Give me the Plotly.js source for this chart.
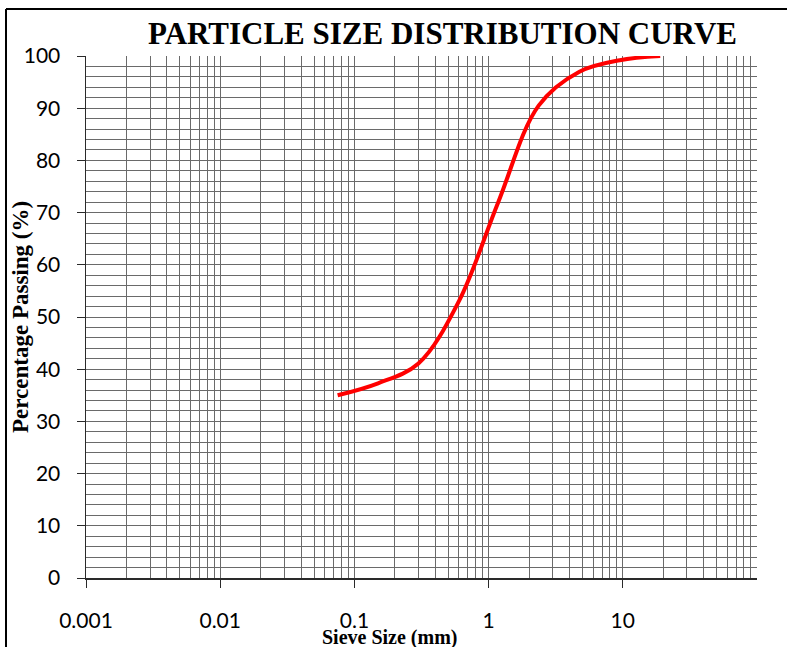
<!DOCTYPE html>
<html>
<head>
<meta charset="utf-8">
<script src="https://cdn.plot.ly/plotly-3.0.1.min.js"></script>
<style>html,body{margin:0;padding:0;background:#fff;}#chart{width:787px;height:647px;}</style>
</head>
<body>
<div id="chart"></div>
<script>
// Data
var sieveSize = [0.075, 0.15, 0.3, 0.6, 1.18, 2.36, 4.75, 9.5, 19];
var percentPassing = [35, 37.3, 41.1, 53, 72, 90.5, 97, 99.2, 100];

var xTickVals = [0.001, 0.01, 0.1, 1, 10];
var xTickText = ["0.001", "0.01", "0.1", "1", "10"];
var yTickVals = [0, 10, 20, 30, 40, 50, 60, 70, 80, 90, 100];

var titleText = "PARTICLE SIZE DISTRIBUTION CURVE";
var xTitleText = "Sieve Size (mm)";
var yTitleText = "Percentage Passing (%)";

// minor grid positions for the log axis (2..9 in each decade, plus the right edge)
var minorX = [];
[0.001, 0.01, 0.1, 1, 10].forEach(function (d) {
  for (var k = 2; k <= 9; k++) minorX.push(+(d * k).toPrecision(6));
});
minorX.push(100);

var W = 787, H = 647;
var L = 86, R = 30, T = 56, B = 69;
var pw = W - L - R, ph = H - T - B;
function px2x(p) { return (p - L) / pw; }
function px2y(p) { return (H - B - p) / ph; }

var gridCol = "#6a6a6a";
var axisCol = "#2a2a2a";
var tickFont = { family: "Lato, 'Open Sans', sans-serif", size: 21, color: "#000" };
var serifBold = "'Liberation Serif', 'Times New Roman', serif";

var trace = {
  x: sieveSize,
  y: percentPassing,
  type: "scatter",
  mode: "lines",
  line: { color: "#ff0000", width: 4, shape: "spline", smoothing: 1 },
  hoverinfo: "x+y",
  showlegend: false
};

var layout = {
  width: W, height: H,
  margin: { l: L, r: R, t: T, b: B, pad: 0 },
  paper_bgcolor: "#fff",
  plot_bgcolor: "#fff",
  showlegend: false,
  title: {
    text: "<b>" + titleText + "</b>",
    font: { family: serifBold, size: 31, color: "#000" },
    x: px2x(442.5), xref: "paper", xanchor: "center",
    y: 1 - 33 / H, yref: "container", yanchor: "middle"
  },
  xaxis: {
    type: "log",
    range: [-3, 2],
    tickmode: "array",
    tickvals: xTickVals,
    ticktext: xTickText,
    ticks: "outside",
    ticklen: 8,
    tickwidth: 1,
    tickcolor: axisCol,
    ticklabelstandoff: 15,
    tickfont: tickFont,
    showgrid: true,
    gridcolor: gridCol,
    gridwidth: 1,
    minor: { tickmode: "array", tickvals: minorX, showgrid: true, gridcolor: gridCol, gridwidth: 1, ticks: "" },
    showline: true,
    linecolor: axisCol,
    linewidth: 1.5,
    zeroline: false,
    fixedrange: true
  },
  yaxis: {
    range: [0, 100],
    tickmode: "array",
    tickvals: yTickVals,
    ticks: "outside",
    ticklen: 8,
    tickwidth: 1,
    tickcolor: axisCol,
    ticklabelstandoff: 12,
    tickfont: tickFont,
    showgrid: true,
    gridcolor: gridCol,
    gridwidth: 1,
    minor: { dtick: 2, showgrid: true, gridcolor: gridCol, gridwidth: 1, ticks: "" },
    showline: true,
    linecolor: axisCol,
    linewidth: 1.5,
    zeroline: false,
    fixedrange: true
  },
  annotations: [
    {
      text: "<b>" + xTitleText + "</b>",
      xref: "paper", yref: "paper",
      x: px2x(390), y: px2y(637),
      xanchor: "center", yanchor: "middle",
      showarrow: false,
      font: { family: serifBold, size: 20, color: "#000" }
    },
    {
      text: "<b>" + yTitleText + "</b>",
      xref: "paper", yref: "paper",
      x: px2x(20), y: px2y(317),
      xanchor: "center", yanchor: "middle",
      textangle: -90,
      showarrow: false,
      font: { family: serifBold, size: 23, color: "#000" }
    }
  ],
  shapes: [
    { type: "line", xref: "paper", yref: "paper", x0: px2x(6), x1: px2x(800), y0: px2y(9), y1: px2y(9), line: { color: "#000", width: 2 } },
    { type: "line", xref: "paper", yref: "paper", x0: px2x(6), x1: px2x(6), y0: px2y(9), y1: px2y(660), line: { color: "#000", width: 2 } }
  ]
};

Plotly.newPlot("chart", [trace], layout, { staticPlot: true, displayModeBar: false });
</script>
</body>
</html>
